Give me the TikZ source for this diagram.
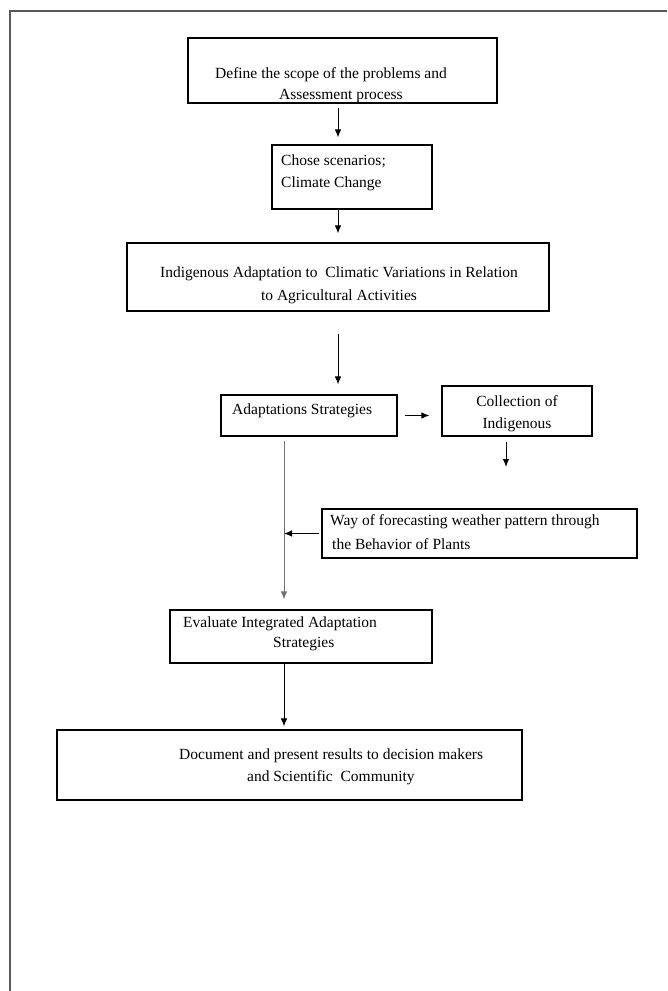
\documentclass[tikz,border=0pt]{standalone}
\usepackage{fontspec}
\setmainfont{Liberation Serif}
\usetikzlibrary{arrows.meta, positioning, calc}

\begin{document}
\begin{tikzpicture}[x=1pt, y=-1pt,
		>={Latex[length=8pt,width=6.5pt]},   % arrow tips
		box/.style={draw, line width=1.1pt, inner sep=0pt},
		txt/.style={anchor=base west, inner sep=0pt},
		ctxt/.style={anchor=base, inner sep=0pt},
		flow/.style={->, line width=1pt},
		font=\fontsize{15.5}{22}\selectfont]
		% page and frame
		\useasboundingbox (0,0) rectangle (667,991);
		\draw[line width=1.4pt, black!65] (10,991) -- (10,11) -- (667,11);
		% boxes
		\node[box, minimum width=309pt, minimum height=65pt] (scope) at (342.5,70.5) {};
		\node[box, minimum width=160pt, minimum height=64pt] (scen) at (352,177) {};
		\node[box, minimum width=422pt, minimum height=68pt] (indig) at (338,277) {};
		\node[box, minimum width=176pt, minimum height=41pt] (adapt) at (309,415.5) {};
		\node[box, minimum width=150pt, minimum height=50pt] (coll) at (517,411) {};
		\node[box, minimum width=315pt, minimum height=49pt] (fore) at (479.5,533.5) {};
		\node[box, minimum width=262pt, minimum height=53pt] (eval) at (301,636.5) {};
		\node[box, minimum width=465pt, minimum height=70pt] (docu) at (289.5,765) {};
		% texts
		\node[txt] (scopeA) at (215,78) {Define the scope of the problems and};
		\node[txt] (scopeB) at (279,99) {Assessment process};
		\node[txt] (scenA) at (281,165) {Chose scenarios;};
		\node[txt] (scenB) at (281,187) {Climate Change};
		\node[ctxt] (indigA) at (339,277) {Indigenous Adaptation to\ \ Climatic Variations in Relation};
		\node[ctxt] (indigB) at (339,300) {to Agricultural Activities};
		\node[txt] (adaptA) at (232,414) {Adaptations Strategies};
		\node[ctxt] (collA) at (517,406) {Collection of};
		\node[ctxt] (collB) at (517,428) {Indigenous};
		\node[txt] (foreA) at (330,525) {Way of forecasting weather pattern through};
		\node[txt] (foreB) at (332,549) {the Behavior of Plants};
		\node[txt] (evalA) at (183,627) {Evaluate Integrated Adaptation};
		\node[txt] (evalB) at (273,647) {Strategies};
		\node[txt] (docuA) at (179,759) {Document and present results to decision makers};
		\node[txt] (docuB) at (247,781) {and Scientific\ \ Community};
		% connectors
		\coordinate (trunk) at (284,441);
		\coordinate (collEnd) at (506,467);
		\draw[flow, shorten <=4pt, shorten >=7pt] (scope.south -| indig.north) -- (scen.north -| indig.north);
		\draw[flow, shorten >=9pt] (scen.south -| indig.north) -- (indig.north);
		\draw[flow, shorten <=22pt, shorten >=10pt] (indig.south) -- (indig.south |- adapt.north);
		\draw[flow, shorten <=7pt, shorten >=12pt] (adapt.east) -- (adapt.east -| coll.west);
		\draw[flow, shorten <=5pt] (coll.south -| collEnd) -- (collEnd);
		\draw[->, line width=1pt, black!55, shorten >=10pt] (trunk) -- (trunk |- eval.north);
		\draw[flow, shorten <=2pt] (fore.west) -- (fore.west -| trunk);
		\draw[flow, shorten >=3pt] (eval.south -| trunk) -- (docu.north -| trunk);
\end{tikzpicture}
\end{document}
